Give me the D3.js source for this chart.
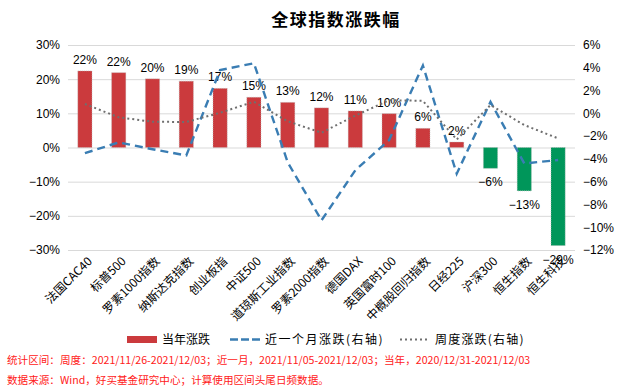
<!DOCTYPE html>
<html>
<head>
<meta charset="utf-8">
<script src="https://cdn.jsdelivr.net/npm/d3@7"></script>
<style>
  body { margin: 0; background: #fff; }
  text { font-family: "Liberation Sans", Arial, sans-serif; }
  .cjk { font-family: "Noto Sans CJK SC", sans-serif; }
</style>
</head>
<body>
<div id="mainDiv"></div>
<script>
// data
var categories = ["法国CAC40", "标普500", "罗素1000指数", "纳斯达克指数", "创业板指", "中证500",
                  "道琼斯工业指数", "罗素2000指数", "德国DAX", "英国富时100", "中概股回归指数",
                  "日经225", "沪深300", "恒生指数", "恒生科技"];
var ytdChange = [22.4, 21.9, 20.1, 19.4, 17.3, 14.7, 13.2, 11.6, 10.7, 9.9, 5.6, 1.6, -6.1, -12.7, -28.7];
var monthChange = [-3.5, -2.55, -3.15, -3.7, 3.8, 4.4, -4.3, -9.4, -5.0, -2.35, 4.2, -5.3, 1.0, -4.4, -4.1];
var weekChange = [0.82, -0.35, -0.74, -0.76, 0.05, 1.02, -0.7, -1.7, -0.2, 1.15, 1.1, -2.3, 0.73, -1.03, -2.2];
var leftTicks = [-30, -20, -10, 0, 10, 20, 30];
var rightTicks = [-12, -10, -8, -6, -4, -2, 0, 2, 4, 6];

var W = 620, H = 389;
var plotL = 68, plotR = 575, plotT = 45, plotB = 250;

var mySvg = d3.select("#mainDiv").append("svg")
              .attr("width", W)
              .attr("height", H);

var x = d3.scaleBand().domain(categories).range([plotL, plotR])
          .paddingInner(0.58).paddingOuter(0.29);
var yL = d3.scaleLinear().domain([-30, 30]).range([plotB, plotT]);
var yR = d3.scaleLinear().domain([-12, 6]).range([plotB, plotT]);

function pct(d) { return (d < 0 ? "\u2212" : "") + Math.abs(d) + "%"; }
function cx(d) { return x(d) + x.bandwidth() / 2; }

// title
mySvg.append("text")
     .attr("class", "cjk")
     .attr("x", 336).attr("y", 26)
     .attr("text-anchor", "middle")
     .attr("font-size", 17).attr("font-weight", "bold")
     .attr("letter-spacing", 1.5)
     .attr("fill", "#000")
     .text("全球指数涨跌幅");

// left axis with gridlines
var gL = mySvg.append("g").attr("transform", "translate(" + plotL + ",0)")
     .call(d3.axisLeft(yL).tickValues(leftTicks).tickFormat(pct)
             .tickSizeInner(-(plotR - plotL)).tickSizeOuter(0).tickPadding(8));
gL.select(".domain").remove();
gL.selectAll("line").attr("stroke", "#d9d9d9");
gL.selectAll("text").attr("font-size", 12).attr("fill", "#000")
  .attr("font-family", "Liberation Sans, Arial, sans-serif");

// right axis
var gR = mySvg.append("g").attr("transform", "translate(" + plotR + ",0)")
     .call(d3.axisRight(yR).tickValues(rightTicks).tickFormat(pct)
             .tickSize(0).tickPadding(8));
gR.select(".domain").remove();
gR.selectAll("text").attr("font-size", 12).attr("fill", "#000")
  .attr("font-family", "Liberation Sans, Arial, sans-serif");

// bars
mySvg.selectAll(".bar")
     .data(categories)
     .enter().append("rect")
     .attr("class", "bar")
     .attr("x", function(d) { return x(d); })
     .attr("width", x.bandwidth())
     .attr("y", function(d, i) { return yL(Math.max(0, ytdChange[i])); })
     .attr("height", function(d, i) { return Math.abs(yL(ytdChange[i]) - yL(0)); })
     .attr("fill", function(d, i) { return ytdChange[i] >= 0 ? "#cb3a3d" : "#00965a"; })
     .attr("stroke", "#b8b8b8").attr("stroke-width", 0.6)
     .attr("stroke-dasharray", "1,1");

// bar labels
mySvg.selectAll(".barLabel")
     .data(categories)
     .enter().append("text")
     .attr("class", "barLabel")
     .attr("x", cx)
     .attr("y", function(d, i) {
         return ytdChange[i] >= 0 ? yL(ytdChange[i]) - 7 : yL(ytdChange[i]) + 18;
     })
     .attr("text-anchor", "middle")
     .attr("font-size", 12).attr("fill", "#000")
     .text(function(d, i) { return pct(Math.round(ytdChange[i])); });

// month line (dashed, right axis)
var lineGen = d3.line()
    .x(function(d, i) { return cx(categories[i]); })
    .y(function(d) { return yR(d); });
mySvg.append("path")
     .datum(monthChange)
     .attr("d", lineGen)
     .attr("fill", "none")
     .attr("stroke", "#3a7db3")
     .attr("stroke-width", 2.4)
     .attr("stroke-dasharray", "8,5");

// week line (dotted, right axis)
mySvg.append("path")
     .datum(weekChange)
     .attr("d", lineGen)
     .attr("fill", "none")
     .attr("stroke", "#6f6f6f")
     .attr("stroke-width", 2)
     .attr("stroke-dasharray", "2,3");

// category labels
mySvg.selectAll(".cat")
     .data(categories)
     .enter().append("text")
     .attr("class", "cjk")
     .attr("transform", function(d) { return "translate(" + (cx(d) + 5) + ",259) rotate(-45)"; })
     .attr("text-anchor", "end")
     .attr("dy", "0.35em")
     .attr("font-size", 12).attr("fill", "#000")
     .text(function(d) { return d; });

// legend
var leg = mySvg.append("g");
leg.append("rect").attr("x", 127).attr("y", 336).attr("width", 30).attr("height", 7).attr("fill", "#cb3a3d");
leg.append("text").attr("class", "cjk").attr("x", 162).attr("y", 343.5).attr("font-size", 12).text("当年涨跌");
leg.append("line").attr("x1", 230).attr("x2", 260).attr("y1", 339.5).attr("y2", 339.5)
   .attr("stroke", "#3a7db3").attr("stroke-width", 2.4).attr("stroke-dasharray", "8,3");
leg.append("text").attr("class", "cjk").attr("x", 265).attr("y", 343.5).attr("font-size", 12)
   .attr("letter-spacing", 1.5).text("近一个月涨跌(右轴)");
leg.append("line").attr("x1", 400).attr("x2", 429).attr("y1", 339.5).attr("y2", 339.5)
   .attr("stroke", "#6f6f6f").attr("stroke-width", 2).attr("stroke-dasharray", "2,3");
leg.append("text").attr("class", "cjk").attr("x", 435).attr("y", 343.5).attr("font-size", 12)
   .attr("letter-spacing", 1.2).text("周度涨跌(右轴)");

// footer notes
mySvg.append("text").attr("class", "cjk")
     .attr("x", 7).attr("y", 364).attr("font-size", 10.6).attr("fill", "#ff2020")
     .text("统计区间：周度：2021/11/26-2021/12/03；近一月，2021/11/05-2021/12/03；当年，2020/12/31-2021/12/03");
mySvg.append("text").attr("class", "cjk")
     .attr("x", 7).attr("y", 384).attr("font-size", 10.6).attr("fill", "#ff2020")
     .text("数据来源：Wind，好买基金研究中心；计算使用区间头尾日频数据。");
</script>
</body>
</html>
